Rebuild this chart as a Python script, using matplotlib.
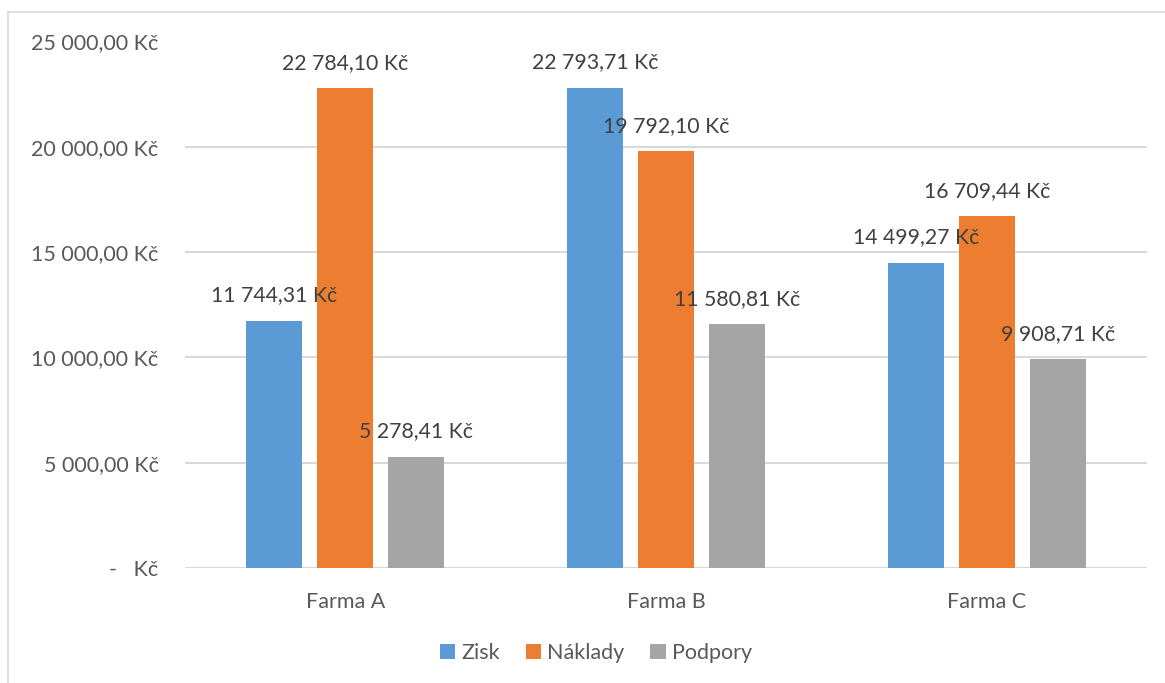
import numpy as np
import matplotlib.pyplot as plt

farmy = ['Farma A', 'Farma B', 'Farma C']
zisk = [11744.31, 22793.71, 14499.27]
naklady = [22784.10, 19792.10, 16709.44]
podpory = [5278.41, 11580.81, 9908.71]
serie = ['Zisk', 'Náklady', 'Podpory']
barvy = ['#5B9BD5', '#ED7D31', '#A5A5A5']
yticks = [0, 5000, 10000, 15000, 20000, 25000]

plt.rcParams['font.family'] = ['Lato', 'DejaVu Sans']
text_col = '#595959'


def kc(v):
    # accounting style: space as thousands separator, comma decimals
    if v == 0:
        return '-   Kč'
    s = f'{v:,.2f}'.replace(',', ' ').replace('.', ',')
    return s + ' Kč'


fig = plt.figure(figsize=(11.65, 6.83), dpi=100)
ax = fig.add_axes([185 / 1165, 1 - 568 / 683, (1147 - 185) / 1165, (568 - 41.5) / 683])

# outer frame (only top and left edge visible)
fig.add_artist(plt.Line2D([8 / 1165, 1], [1 - 12 / 683, 1 - 12 / 683], color='#D9D9D9', lw=1.2))
fig.add_artist(plt.Line2D([8 / 1165, 8 / 1165], [0, 1 - 12 / 683], color='#D9D9D9', lw=1.2))

x = np.arange(len(farmy))
sirka = 0.1746
krok = 0.2214
for i, (hodnoty, nazev, c) in enumerate(zip([zisk, naklady, podpory], serie, barvy)):
    pos = x + (i - 1) * krok
    ax.bar(pos, hodnoty, width=sirka, color=c, label=nazev, zorder=2)
    for px, v in zip(pos, hodnoty):
        ax.annotate(kc(v), (px, v), xytext=(0, 14), textcoords='offset points',
                    ha='center', va='baseline', fontsize=15.3, color='#404040', zorder=5)

ax.set_xlim(-0.5, 2.5)
ax.set_ylim(0, 25000)
ax.set_yticks(yticks)
ax.set_yticklabels([kc(v) for v in yticks])
ax.set_xticks(x)
ax.set_xticklabels(farmy)
ax.tick_params(axis='both', length=0, labelsize=15.5, colors=text_col)
ax.tick_params(axis='y', pad=19)
ax.tick_params(axis='x', pad=17)
ax.grid(axis='y', color='#D9D9D9', lw=1.5, zorder=0)
for s in ax.spines.values():
    s.set_visible(False)

leg = fig.legend(loc='center', bbox_to_anchor=(596 / 1165, 1 - 653 / 683), ncol=3, frameon=False,
                 fontsize=15.5, handlelength=0.7, handleheight=0.7, handletextpad=0.3,
                 columnspacing=1.2)
for t in leg.get_texts():
    t.set_color(text_col)

fig.savefig('out.png', dpi=100)
